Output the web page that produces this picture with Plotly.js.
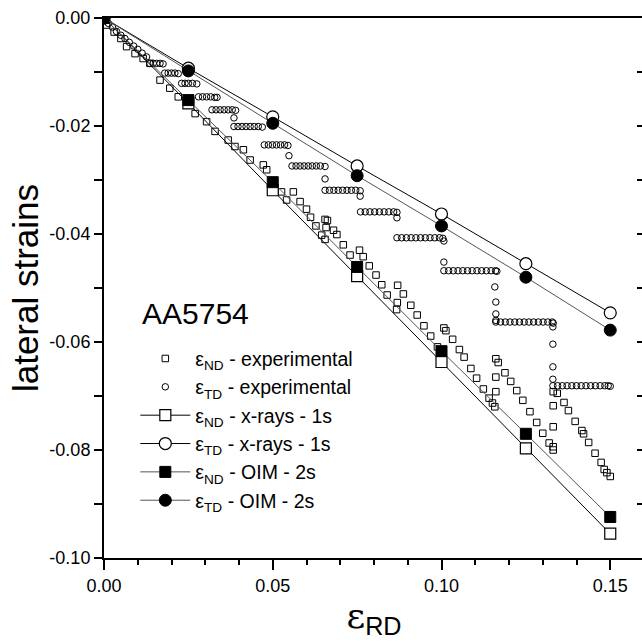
<!DOCTYPE html>
<html>
<head>
<meta charset="utf-8">
<script src="https://cdn.plot.ly/plotly-3.0.1.min.js"></script>
<style>
html, body { margin:0; padding:0; overflow:hidden; background:#fff; }
#chart { width:660px; height:642px; }
</style>
</head>
<body>
<div id="chart"></div>
<script>
// Model points
var xModel = [0, 0.025, 0.05, 0.075, 0.1, 0.125, 0.15];
var ndXray = [0, -0.0158, -0.0319, -0.0478, -0.0637, -0.0797, -0.0955];
var tdXray = [0, -0.0093, -0.0183, -0.0274, -0.0363, -0.0455, -0.0546];
var ndOim  = [0, -0.0152, -0.0304, -0.0461, -0.0617, -0.0770, -0.0924];
var tdOim  = [0, -0.0098, -0.0195, -0.0292, -0.0385, -0.0480, -0.0578];

// Experimental eps_ND
var ndExpX = [0.0008,0.0030,0.0050,0.0067,0.0092,0.0116,0.0136,0.0166,0.0195,0.0220,0.0250,0.0270,0.0304,0.0329,0.0368,0.0388,0.0413,0.0433,0.0472,0.0482,0.0502,0.0526,0.0561,0.0541,0.0581,0.0600,0.0612,0.0628,0.0655,0.0662,0.0658,0.0680,0.0690,0.0645,0.0655,0.0709,0.0729,0.0757,0.0768,0.0786,0.0806,0.0823,0.0870,0.0839,0.0887,0.0869,0.0867,0.0909,0.0928,0.0948,0.0968,0.0988,0.1007,0.1013,0.1033,0.1053,0.1067,0.1087,0.1104,0.1124,0.1141,0.1151,0.1158,0.1161,0.1168,0.1161,0.1161,0.1188,0.1205,0.1223,0.1241,0.1262,0.1282,0.1300,0.1319,0.1331,0.1331,0.1331,0.1331,0.1331,0.1343,0.1363,0.1376,0.1396,0.1416,0.1421,0.1436,0.1455,0.1473,0.1482,0.1490,0.1500];
var ndExpY = [-0.0013,-0.0026,-0.0038,-0.0053,-0.0066,-0.0075,-0.0084,-0.0115,-0.0130,-0.0146,-0.0155,-0.0177,-0.0192,-0.0210,-0.0226,-0.0238,-0.0244,-0.0263,-0.0272,-0.0281,-0.0303,-0.0322,-0.0322,-0.0337,-0.0340,-0.0354,-0.0369,-0.0385,-0.0373,-0.0375,-0.0388,-0.0393,-0.0401,-0.0402,-0.0410,-0.0420,-0.0439,-0.0430,-0.0442,-0.0459,-0.0476,-0.0494,-0.0495,-0.0513,-0.0511,-0.0527,-0.0540,-0.0532,-0.0550,-0.0570,-0.0589,-0.0609,-0.0574,-0.0579,-0.0595,-0.0614,-0.0628,-0.0649,-0.0667,-0.0687,-0.0704,-0.0713,-0.0720,-0.0631,-0.0638,-0.0665,-0.0692,-0.0657,-0.0673,-0.0690,-0.0708,-0.0729,-0.0749,-0.0769,-0.0787,-0.0794,-0.0800,-0.0757,-0.0718,-0.0692,-0.0695,-0.0712,-0.0727,-0.0747,-0.0764,-0.0770,-0.0786,-0.0806,-0.0823,-0.0836,-0.0842,-0.0849];

// Experimental eps_TD
var tdExpX = [0.0013,0.0025,0.0037,0.0050,0.0062,0.0075,0.0088,0.0100,0.0113,0.0126,
  0.0136,0.0146,0.0156,0.0166,0.0175,
  0.0180,0.0190,0.0200,0.0210,0.0220,
  0.0230,0.0240,0.0250,0.0262,0.0275,
  0.0280,0.0292,0.0304,0.0316,0.0328,0.0335,
  0.0320,0.0332,0.0344,0.0356,0.0368,0.0380,0.0390,0.0385,
  0.0385,0.0397,0.0409,0.0421,0.0433,0.0445,0.0457,0.0469,
  0.0475,0.0487,0.0499,0.0511,0.0523,0.0535,0.0545,0.0548,
  0.0557,0.0569,0.0581,0.0593,0.0605,0.0617,0.0629,0.0641,0.0655,0.0655,
  0.0655,0.0668,0.0681,0.0694,0.0707,0.0720,0.0733,0.0746,0.0759,0.0759,
  0.0760,0.0774,0.0788,0.0802,0.0816,0.0830,0.0844,0.0858,0.0868,0.0868,
  0.0868,0.0882,0.0896,0.0910,0.0924,0.0938,0.0952,0.0966,0.0980,0.0994,0.1004,0.1007,
  0.1007,0.1007,0.1021,0.1035,0.1049,0.1063,0.1077,0.1091,0.1105,0.1119,0.1133,0.1147,0.1160,0.1164,
  0.1158,0.1161,0.1161,0.1161,
  0.1161,0.1175,0.1189,0.1203,0.1217,0.1231,0.1245,0.1259,0.1273,0.1287,0.1301,0.1315,0.1328,0.1331,
  0.1330,0.1330,0.1330,0.1330,
  0.1330,0.1344,0.1358,0.1372,0.1386,0.1400,0.1414,0.1428,0.1442,0.1456,0.1470,0.1484,0.1494,0.1500];
var tdExpY = [-0.0010,-0.0017,-0.0025,-0.0032,-0.0038,-0.0045,-0.0052,-0.0058,-0.0065,-0.0072,
  -0.0084,-0.0084,-0.0084,-0.0084,-0.0085,
  -0.0102,-0.0102,-0.0102,-0.0102,-0.0103,
  -0.0121,-0.0121,-0.0121,-0.0121,-0.0122,
  -0.0146,-0.0146,-0.0146,-0.0146,-0.0147,-0.0147,
  -0.0170,-0.0170,-0.0170,-0.0170,-0.0170,-0.0170,-0.0171,-0.0185,
  -0.0201,-0.0201,-0.0201,-0.0201,-0.0201,-0.0201,-0.0201,-0.0202,
  -0.0235,-0.0235,-0.0235,-0.0235,-0.0235,-0.0235,-0.0236,-0.0255,
  -0.0274,-0.0274,-0.0274,-0.0274,-0.0274,-0.0274,-0.0274,-0.0274,-0.0275,-0.0298,
  -0.0319,-0.0319,-0.0319,-0.0319,-0.0319,-0.0319,-0.0319,-0.0319,-0.0320,-0.0330,
  -0.0359,-0.0359,-0.0359,-0.0359,-0.0359,-0.0359,-0.0359,-0.0359,-0.0360,-0.0370,
  -0.0407,-0.0407,-0.0407,-0.0407,-0.0407,-0.0407,-0.0407,-0.0407,-0.0407,-0.0407,-0.0408,-0.0413,
  -0.0452,-0.0468,-0.0468,-0.0468,-0.0468,-0.0468,-0.0468,-0.0468,-0.0468,-0.0468,-0.0468,-0.0468,-0.0468,-0.0469,
  -0.0498,-0.0526,-0.0548,-0.0560,
  -0.0563,-0.0563,-0.0563,-0.0563,-0.0563,-0.0563,-0.0563,-0.0563,-0.0563,-0.0563,-0.0563,-0.0563,-0.0563,-0.0565,
  -0.0572,-0.0604,-0.0646,-0.0669,
  -0.0681,-0.0681,-0.0681,-0.0681,-0.0681,-0.0681,-0.0681,-0.0681,-0.0681,-0.0681,-0.0681,-0.0681,-0.0681,-0.0682];

var legendNames = [
  "ε<sub>ND</sub> - experimental",
  "ε<sub>TD</sub> - experimental",
  "ε<sub>ND</sub> - x-rays - 1s",
  "ε<sub>TD</sub> - x-rays - 1s",
  "ε<sub>ND</sub> - OIM - 2s",
  "ε<sub>TD</sub> - OIM - 2s"
];
var xTickVals = [0, 0.05, 0.1, 0.15];
var xTickText = ['0.00', '0.05', '0.10', '0.15'];
var yTickVals = [0, -0.02, -0.04, -0.06, -0.08, -0.10];
var yTickText = ['0.00', '-0.02', '-0.04', '-0.06', '-0.08', '-0.10'];

var traces = [
  {x: ndExpX, y: ndExpY, mode: 'markers', name: legendNames[0],
   marker: {symbol: 'square-open', size: 6.5, color: '#000', line: {width: 1}}},
  {x: tdExpX, y: tdExpY, mode: 'markers', name: legendNames[1],
   marker: {symbol: 'circle-open', size: 6.5, color: '#000', line: {width: 1}}},
  {x: xModel, y: ndXray, mode: 'lines+markers', name: legendNames[2],
   line: {color: '#000', width: 1},
   marker: {symbol: 'square', size: 11, color: '#fff', line: {color: '#000', width: 1.2}}},
  {x: xModel, y: tdXray, mode: 'lines+markers', name: legendNames[3],
   line: {color: '#000', width: 1},
   marker: {symbol: 'circle', size: 12, color: '#fff', line: {color: '#000', width: 1.2}}},
  {x: xModel, y: ndOim, mode: 'lines+markers', name: legendNames[4],
   line: {color: '#555', width: 1},
   marker: {symbol: 'square', size: 11, color: '#000', line: {color: '#000', width: 1}}},
  {x: xModel, y: tdOim, mode: 'lines+markers', name: legendNames[5],
   line: {color: '#555', width: 1},
   marker: {symbol: 'circle', size: 12, color: '#000', line: {color: '#000', width: 1}}},
  {x: [0], y: [0], yaxis: 'y2', mode: 'markers', showlegend: false, hoverinfo: 'skip',
   marker: {opacity: 0}}
];

var layout = {
  width: 660, height: 642,
  margin: {l: 104, r: 16, t: 18, b: 84},
  paper_bgcolor: '#fff', plot_bgcolor: '#fff',
  font: {family: 'Liberation Sans, Arial, sans-serif', color: '#000'},
  showlegend: true,
  legend: {x: 0.058, y: 0.405, xanchor: 'left', yanchor: 'top',
           font: {size: 19.5, color: '#000'}, bgcolor: 'rgba(0,0,0,0)',
           itemwidth: 50, tracegroupgap: 0},
  xaxis: {range: [0, 0.16], tickvals: xTickVals, ticktext: xTickText,
          ticks: 'outside', ticklen: 10, tickwidth: 2, tickcolor: '#000',
          minor: {dtick: 0.01, tick0: 0, ticks: 'outside', ticklen: 5, tickwidth: 2, tickcolor: '#000', showgrid: false},
          showline: true, linewidth: 2, linecolor: '#000', mirror: true,
          showgrid: false, zeroline: false,
          tickfont: {size: 18, color: '#000'},
          title: {text: 'ε<sub><span style="font-family:Liberation Sans, Arial, sans-serif">RD</span></sub>',
                  font: {size: 36, color: '#000', family: 'DejaVu Serif, serif'}, standoff: 8}},
  yaxis: {range: [-0.10, 0.0], tickvals: yTickVals, ticktext: yTickText,
          ticks: 'outside', ticklen: 8, tickwidth: 2, tickcolor: '#000',
          minor: {dtick: 0.01, tick0: 0, ticks: 'outside', ticklen: 8, tickwidth: 2, tickcolor: '#000', showgrid: false},
          showline: true, linewidth: 2, linecolor: '#000',
          showgrid: false, zeroline: false,
          tickfont: {size: 18, color: '#000'},
          title: {text: 'lateral strains', font: {size: 35, color: '#000'}, standoff: 0}},
  yaxis2: {overlaying: 'y', side: 'right', range: [-0.10, 0.0], dtick: 0.01, tick0: 0,
           ticks: 'inside', ticklen: 7, tickwidth: 2, tickcolor: '#000',
           showticklabels: false, showgrid: false, zeroline: false, showline: true, linewidth: 2, linecolor: '#000'},
  annotations: [{xref: 'paper', yref: 'paper', x: 0.066, y: 0.452, xanchor: 'left', yanchor: 'middle',
                 text: 'AA5754', showarrow: false, font: {size: 30, color: '#000'}}]
};

Plotly.newPlot('chart', traces, layout, {displayModeBar: false, staticPlot: true});
</script>
</body>
</html>
